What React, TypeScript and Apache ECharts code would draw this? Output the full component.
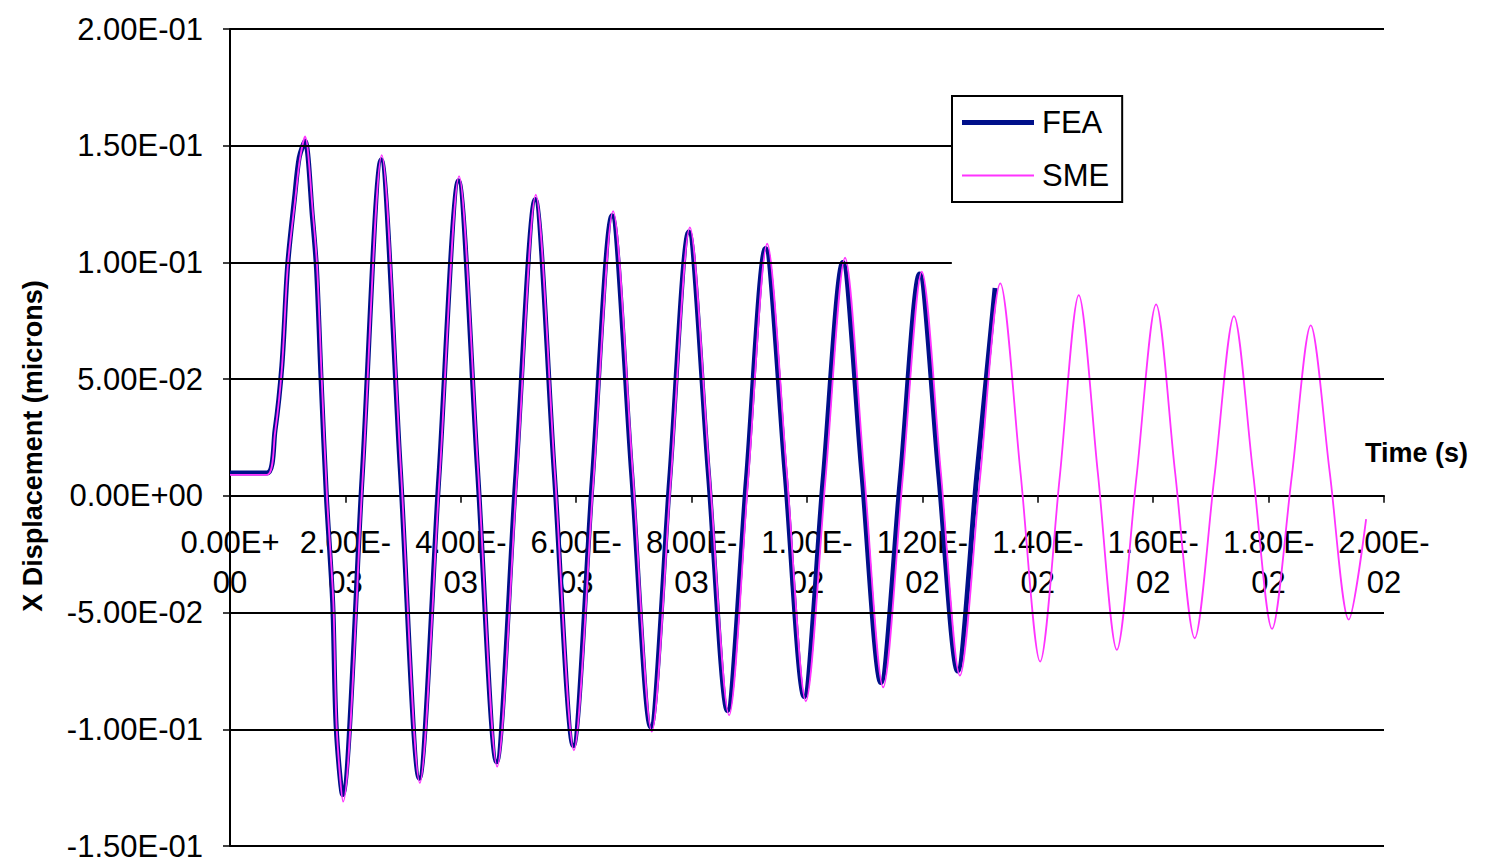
import React, { useEffect, useRef } from "react";
import * as echarts from "echarts";

// ---- Data (time in seconds, X displacement in microns) ----
const feaTime = [0, 0.00064, 0.00078, 0.0009, 0.001, 0.00112, 0.0012, 0.0013, 0.00143, 0.0015, 0.00158, 0.00167, 0.00178, 0.00184, 0.00195, 0.00229, 0.00262, 0.00295, 0.00328, 0.00362, 0.00396, 0.00429, 0.00462, 0.00495, 0.00529, 0.00562, 0.00595, 0.00628, 0.00662, 0.00696, 0.00729, 0.00762, 0.00795, 0.00829, 0.00862, 0.00895, 0.00928, 0.00962, 0.00995, 0.01028, 0.01062, 0.01095, 0.01128, 0.01162, 0.01195, 0.01228, 0.01261, 0.01294, 0.01326];
const feaDisp = [0.0098, 0.0098, 0.028, 0.056, 0.099, 0.128, 0.145, 0.152, 0.119, 0.097, 0.049, 0.0, -0.046, -0.099, -0.128, 0.008, 0.144, 0.012, -0.121, 0.008, 0.135, 0.011, -0.114, 0.007, 0.127, 0.01, -0.107, 0.007, 0.12, 0.01, -0.099, 0.007, 0.113, 0.01, -0.092, 0.007, 0.106, 0.01, -0.086, 0.007, 0.1, 0.01, -0.08, 0.008, 0.095, 0.01, -0.075, 0.008, 0.089];

const smeTime = [0, 0.00064, 0.00078, 0.0009, 0.001, 0.00113, 0.00121, 0.0013, 0.00144, 0.00151, 0.00159, 0.00168, 0.00179, 0.00185, 0.00196, 0.0023, 0.00263, 0.00296, 0.00329, 0.00363, 0.00397, 0.0043, 0.00463, 0.00497, 0.0053, 0.00563, 0.00596, 0.0063, 0.00664, 0.00698, 0.00731, 0.00764, 0.00797, 0.00831, 0.00865, 0.00898, 0.00931, 0.00965, 0.00998, 0.01032, 0.01066, 0.01099, 0.01132, 0.01166, 0.01199, 0.01232, 0.01265, 0.013, 0.01335, 0.0137, 0.01404, 0.01438, 0.01471, 0.01504, 0.01537, 0.01571, 0.01605, 0.01638, 0.01672, 0.01706, 0.0174, 0.01773, 0.01806, 0.0184, 0.01873, 0.01906, 0.01939, 0.01969];
const smeDisp = [0.009, 0.009, 0.027, 0.055, 0.098, 0.127, 0.144, 0.154, 0.12, 0.098, 0.05, 0.0, -0.045, -0.1, -0.131, 0.008, 0.146, 0.012, -0.123, 0.007, 0.137, 0.011, -0.116, 0.007, 0.129, 0.01, -0.109, 0.007, 0.122, 0.01, -0.101, 0.007, 0.115, 0.01, -0.094, 0.007, 0.108, 0.01, -0.088, 0.007, 0.102, 0.01, -0.082, 0.008, 0.096, 0.01, -0.077, 0.008, 0.091, 0.01, -0.071, 0.008, 0.086, 0.01, -0.066, 0.008, 0.082, 0.01, -0.061, 0.008, 0.077, 0.01, -0.057, 0.008, 0.073, 0.01, -0.053, -0.01];

const seriesNames = ["FEA", "SME"];
const xRange = [0, 0.02, 0.002];
const yRange = [-0.15, 0.2, 0.05];
const fullGridValues = [0.2, 0.05, -0.05, -0.1, -0.15];
const shortGridValues = [0.15, 0.1];
const shortGridEnd = 0.01251; // gridlines stop at legend's left edge

const FONT = "'Liberation Sans', Arial, sans-serif";
const COLORS = ["#00108a", "#ff33ff"];

const GRID = { left: 230, right: 115, top: 29, bottom: 16 };
const H = 862;

function expParts(v: number) {
  if (Math.abs(v) < 1e-12) v = 0;
  const s = v.toExponential(2);
  const [m, e] = s.split("e");
  const sign = e[0] === "-" ? "-" : "+";
  const d = e.replace(/[+-]/, "").padStart(2, "0");
  return { m, sign, d };
}

export default function App() {
  const ref = useRef<HTMLDivElement>(null);
  useEffect(() => {
    if (!ref.current) return;
    const chart = echarts.init(ref.current, null, { renderer: "svg" });
    const fea = feaTime.map((t, i) => [t, feaDisp[i]]);
    const sme = smeTime.map((t, i) => [t, smeDisp[i]]);
    const gridLines: any[] = [
      ...fullGridValues.map((v) => ({ yAxis: v })),
      ...shortGridValues.map((v) => [{ coord: [xRange[0], v] }, { coord: [shortGridEnd, v] }]),
    ];
    // x axis sits on y = 0 (Excel style); shift it up from the grid bottom
    const plotH = H - GRID.top - GRID.bottom;
    const zeroOffset = -plotH * (0 - yRange[0]) / (yRange[1] - yRange[0]);
    chart.setOption({
      animation: false,
      backgroundColor: "#ffffff",
      grid: { ...GRID, containLabel: false, outerBoundsMode: "none" },
      legend: {
        data: [
          { name: seriesNames[0], icon: "path://M0,0H72V5H0Z" },
          { name: seriesNames[1], icon: "path://M0,0H72V1.8H0Z" },
        ],
        left: 952,
        top: 96,
        orient: "vertical",
        padding: [11, 13, 11, 10],
        itemGap: 22,
        itemWidth: 72,
        itemHeight: 30,
        backgroundColor: "#ffffff",
        borderColor: "#000000",
        borderWidth: 2,
        borderRadius: 0,
        textStyle: { fontFamily: FONT, fontSize: 31, color: "#000", padding: [0, 0, 0, 3] },
        z: 10,
      },
      xAxis: {
        type: "value",
        min: xRange[0],
        max: xRange[1],
        interval: xRange[2],
        position: "bottom",
        offset: zeroOffset,
        axisLine: { show: true, onZero: false, lineStyle: { color: "#000", width: 2 } },
        axisTick: { show: true, inside: false, length: 7, lineStyle: { color: "#000", width: 1.5 } },
        splitLine: { show: false },
        axisLabel: {
          margin: 27,
          fontFamily: FONT,
          fontSize: 31,
          color: "#000",
          lineHeight: 40,
          formatter: (v: number) => {
            const p = expParts(v);
            return `${p.m}E${p.sign}\n${p.d}`;
          },
        },
      },
      yAxis: {
        type: "value",
        min: yRange[0],
        max: yRange[1],
        interval: yRange[2],
        axisLine: { show: true, onZero: false, lineStyle: { color: "#000", width: 2 } },
        axisTick: { show: true, inside: false, length: 7, lineStyle: { color: "#000", width: 1.5 } },
        splitLine: { show: false },
        axisLabel: {
          margin: 27,
          fontFamily: FONT,
          fontSize: 31,
          color: "#000",
          formatter: (v: number) => {
            const p = expParts(v);
            return `${p.m}E${p.sign}${p.d}`;
          },
        },
      },
      graphic: [
        {
          type: "text",
          x: 33,
          y: 446,
          rotation: Math.PI / 2,
          style: {
            text: "X Displacement (microns)",
            font: `bold 27px ${FONT}`,
            fill: "#000",
            align: "center",
            verticalAlign: "middle",
          },
        },
        {
          type: "text",
          x: 1365,
          y: 453,
          style: {
            text: "Time (s)",
            font: `bold 27px ${FONT}`,
            fill: "#000",
            align: "left",
            verticalAlign: "middle",
          },
        },
      ],
      series: [
        {
          name: "grid",
          type: "line",
          data: [],
          z: 1,
          silent: true,
          markLine: {
            silent: true,
            symbol: ["none", "none"],
            label: { show: false },
            lineStyle: { color: "#000", width: 2, type: "solid" },
            emphasis: { disabled: true },
            data: gridLines,
          },
        },
        {
          name: seriesNames[0],
          type: "line",
          data: fea,
          showSymbol: false,
          symbol: "none",
          smooth: 0.3,
          z: 3,
          lineStyle: { color: COLORS[0], width: 5 },
          itemStyle: { color: COLORS[0] },
        },
        {
          name: seriesNames[1],
          type: "line",
          data: sme,
          showSymbol: false,
          symbol: "none",
          smooth: 0.3,
          z: 4,
          lineStyle: { color: COLORS[1], width: 1.8 },
          itemStyle: { color: COLORS[1] },
        },
      ],
    });
    return () => chart.dispose();
  }, []);
  return (
    <div
      ref={ref}
      style={{ position: "fixed", left: 0, top: 0, width: 1499, height: H }}
    />
  );
}
